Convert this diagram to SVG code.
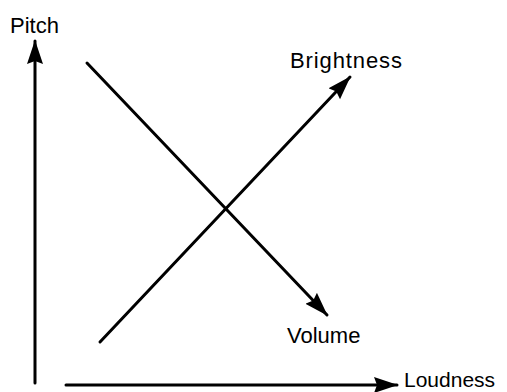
<svg xmlns="http://www.w3.org/2000/svg" width="507" height="392" viewBox="0 0 507 392">
<style>
.ln{stroke:#000;stroke-width:3;fill:none;stroke-linecap:round}
.lb{font-family:"Liberation Sans",Arial,sans-serif;font-size:22px;fill:#000}
</style>
<defs>
<marker id="ah" markerUnits="userSpaceOnUse" markerWidth="26" markerHeight="18" refX="23" refY="8" orient="auto" viewBox="0 0 26 18">
<path d="M0,0 L24,8 L0,16 L3,8 z" fill="#000"/>
</marker>
</defs>
<rect width="507" height="392" fill="#fff"/>
<g id="connectors">
<line class="ln" x1="35" y1="383" x2="35" y2="41" marker-end="url(#ah)"/>
<line class="ln" x1="66" y1="385" x2="397" y2="385" marker-end="url(#ah)"/>
<line class="ln" x1="87" y1="63" x2="327" y2="315" marker-end="url(#ah)"/>
<line class="ln" x1="100" y1="342" x2="350" y2="77" marker-end="url(#ah)"/>
</g>
<g id="pitch"><text class="lb" x="10" y="33">Pitch</text></g>
<g id="loudness"><text class="lb" x="404" y="387" style="font-size:21px">Loudness</text></g>
<g id="brightness"><text class="lb" x="290" y="68" textLength="112">Brightness</text></g>
<g id="volume"><text class="lb" x="287" y="343">Volume</text></g>
</svg>
